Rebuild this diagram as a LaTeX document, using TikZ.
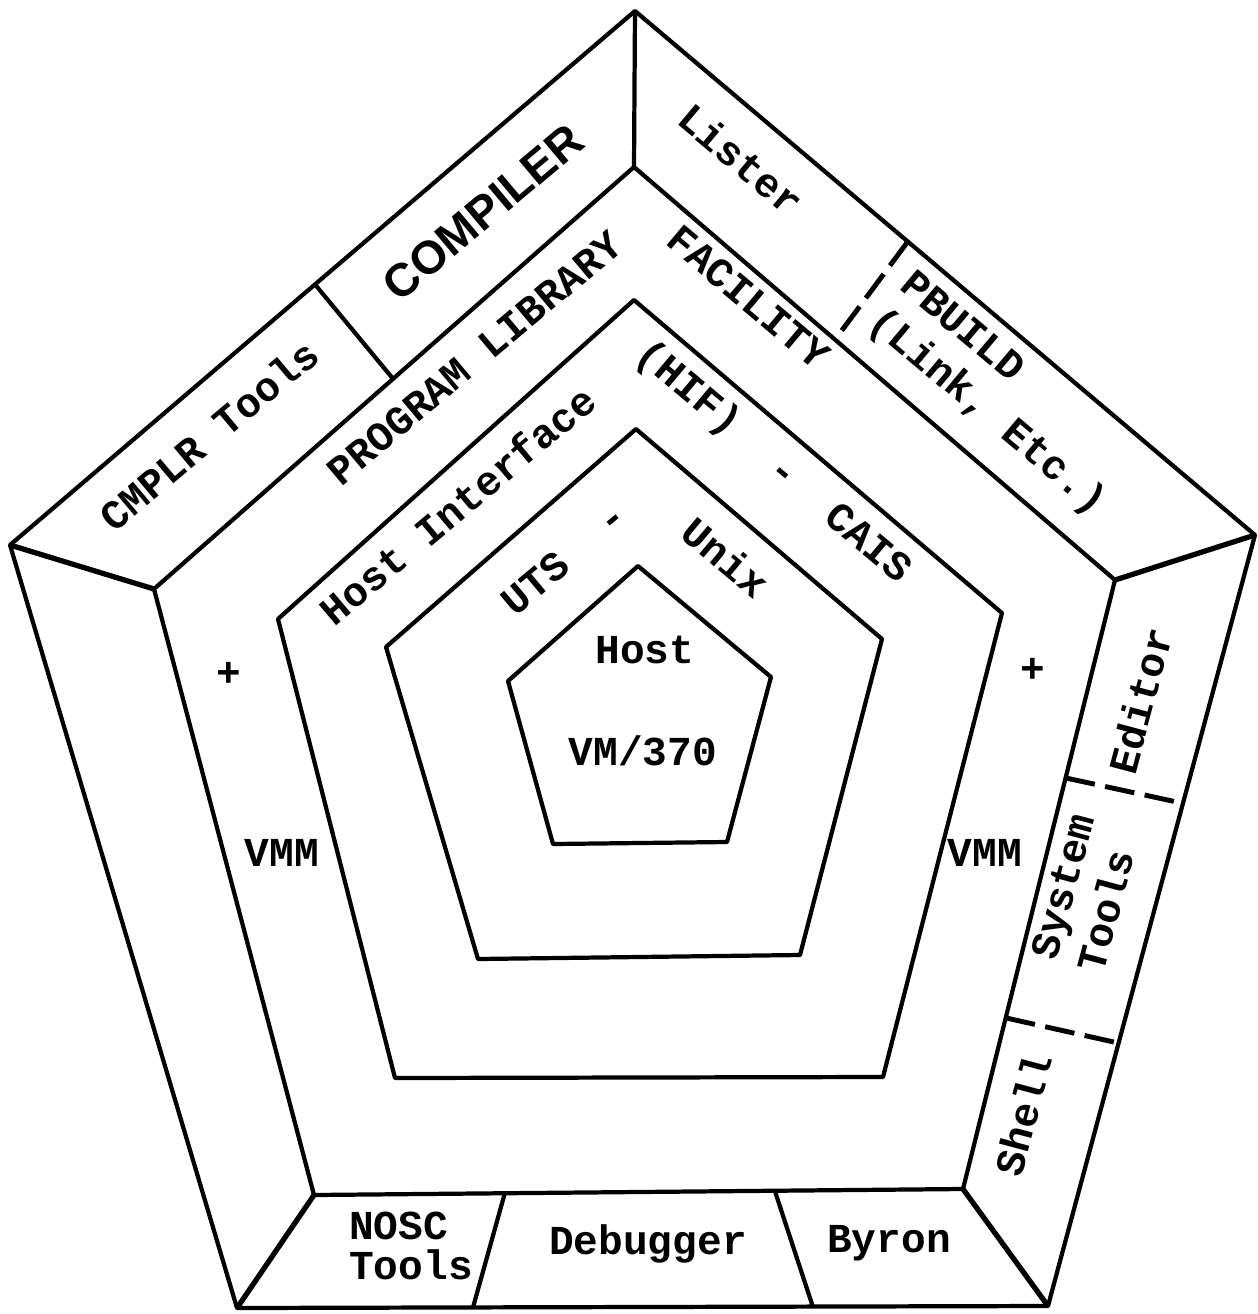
\documentclass[tikz,border=0pt]{standalone}
\usepackage{fontspec}
\setmainfont{Liberation Mono}[BoldFont={Liberation Mono Bold}]
\newfontfamily\heavysans{Liberation Sans}
\usetikzlibrary{calc}

\begin{document}
\begin{tikzpicture}[x=0.01cm, y=-0.01cm,
                    ring/.style={draw, line width=1.2pt, line join=round},
                    corner/.style={line width=1.5pt},
                    cut/.style={line width=1.2pt},
                    dashcut/.style={line width=1.4pt, dash pattern=on 8.5pt off 3pt},
                    stack/.style={font=\bfseries\fontsize{11.7}{13.8}\selectfont, inner sep=1pt},
                    word/.style={stack, text height=7pt, text depth=1.5pt},
                    upleft/.style={word, rotate=40},
                    upright/.style={word, rotate=-40},
                    side/.style={word, rotate=75}]

  \useasboundingbox (0,0) rectangle (1258,1314);

  \coordinate (o1) at (635,11);
  \coordinate (o2) at (1255,535);
  \coordinate (o3) at (1048,1306);
  \coordinate (o4) at (237,1308);
  \coordinate (o5) at (10,545);

  \coordinate (p1) at (634,167);
  \coordinate (p2) at (1115,580);
  \coordinate (p3) at (963,1189);
  \coordinate (p4) at (314,1195);
  \coordinate (p5) at (154,589);

  \coordinate (q1) at (634,300);
  \coordinate (q2) at (1002,613);
  \coordinate (q3) at (883,1077);
  \coordinate (q4) at (395,1078);
  \coordinate (q5) at (278,619);

  \coordinate (r1) at (636,429);
  \coordinate (r2) at (882,639);
  \coordinate (r3) at (800,955);
  \coordinate (r4) at (478,959);
  \coordinate (r5) at (386,647);

  \coordinate (s1) at (638,566);
  \coordinate (s2) at (771,677);
  \coordinate (s3) at (727,842);
  \coordinate (s4) at (553,844);
  \coordinate (s5) at (508,681);

  \draw[ring] (o1) -- (o2) -- (o3) -- (o4) -- (o5) -- cycle;
  \draw[ring] (p1) -- (p2) -- (p3) -- (p4) -- (p5) -- cycle;
  \draw[ring] (q1) -- (q2) -- (q3) -- (q4) -- (q5) -- cycle;
  \draw[ring] (r1) -- (r2) -- (r3) -- (r4) -- (r5) -- cycle;
  \draw[ring] (s1) -- (s2) -- (s3) -- (s4) -- (s5) -- cycle;

  \draw[cut] (o1) -- (p1);
  \draw[corner] (o2) -- (p2);
  \draw[corner] (o3) -- (p3);
  \draw[corner] (o4) -- (p4);
  \draw[corner] (o5) -- (p5);

  \coordinate (cmplrA) at ($(o5)!0.488!(o1)$);
  \coordinate (cmplrB) at ($(p5)!0.498!(p1)$);
  \coordinate (listerA) at ($(o1)!0.44!(o2)$);
  \coordinate (listerB) at ($(p1)!0.418!(p2)$);
  \coordinate (editorA) at ($(o2)!0.348!(o3)$);
  \coordinate (editorB) at ($(p2)!0.325!(p3)$);
  \coordinate (shellA) at ($(o2)!0.659!(o3)$);
  \coordinate (shellB) at ($(p2)!0.719!(p3)$);
  \coordinate (byronA) at ($(o3)!0.29!(o4)$);
  \coordinate (byronB) at ($(p3)!0.29!(p4)$);
  \coordinate (noscA) at ($(o3)!0.709!(o4)$);
  \coordinate (noscB) at ($(p3)!0.706!(p4)$);

  \draw[cut] (cmplrA) -- (cmplrB);
  \draw[dashcut] (listerA) -- (listerB);
  \draw[dashcut] (editorB) -- (editorA);
  \draw[dashcut] (shellB) -- (shellA);
  \draw[cut] (byronB) -- (byronA);
  \draw[cut] (noscB) -- (noscA);

  \node[upleft] (cmplr) at (212,439) {CMPLR Tools};
  \node[upleft, font=\heavysans\bfseries\fontsize{13.2}{15}\selectfont] (compiler) at (487,217) {COMPILER};
  \node[upright] (lister) at (738,163) {Lister};
  \node[stack, rotate=-40, align=left] (pbuild) at (1002,395) {PBUILD\\(Link, Etc.)};

  \node[upleft] (proglib) at (477,361) {PROGRAM LIBRARY};
  \node[upright] (facility) at (746,300) {FACILITY};
  \node[word] (plusl) at (229,677) {+};
  \node[word] (plusr) at (1033,673) {+};
  \node[word] (vmml) at (282,857) {VMM};
  \node[word] (vmmr) at (985,857) {VMM};

  \node[upleft] (hostif) at (461,509) {Host Interface};
  \node[upright] (hif) at (687,390) {(HIF)};
  \node[upright] (hifdash) at (782,474) {-};
  \node[upright] (cais) at (867,545) {CAIS};

  \node[upleft] (uts) at (538,586) {UTS};
  \node[upleft] (utsdash) at (614,521) {-};
  \node[upright] (unix) at (723,561) {Unix};

  \node[word] (host) at (645,654) {Host};
  \node[word] (vm) at (643,756) {VM/370};

  \node[side] (editor) at (1145,702) {Editor};
  \node[stack, rotate=75, align=left] (systools) at (1086,893) {System\\Tools};
  \node[side] (shell) at (1028,1116) {Shell};

  \node[stack, align=left, font=\bfseries\fontsize{11.7}{11.6}\selectfont] (nosc) at (411,1246) {NOSC\\Tools};
  \node[word] (debugger) at (648,1245) {Debugger};
  \node[word] (byron) at (889,1243) {Byron};

\end{tikzpicture}
\end{document}
